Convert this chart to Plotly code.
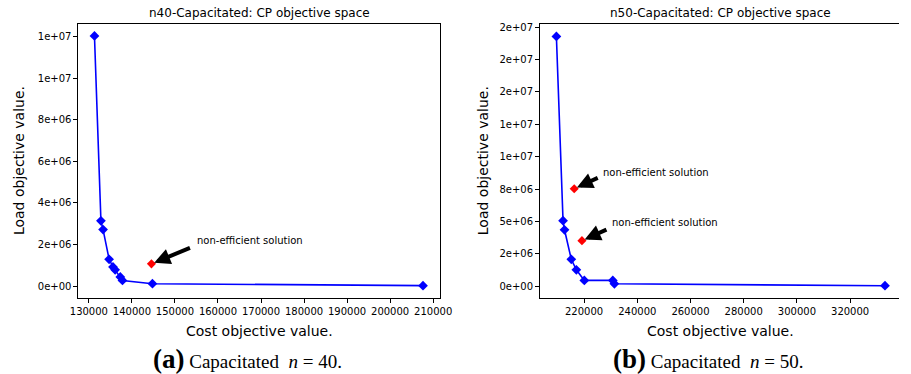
import plotly.graph_objects as go

# ---------------- data ----------------
n40_cost = [131300, 132800, 133300, 134700, 135600, 136100, 137300, 137800, 144770, 207640]
n40_load = [12.04e6, 3.14e6, 2.72e6, 1.29e6, 0.92e6, 0.78e6, 0.44e6, 0.27e6, 0.115e6, 0.02e6]
n40_red_cost = [144540]
n40_red_load = [1.07e6]

n50_cost = [209600, 212100, 212650, 215200, 217100, 220100, 230800, 231400, 333100]
n50_load = [19.28e6, 5.05e6, 4.35e6, 2.07e6, 1.26e6, 0.44e6, 0.44e6, 0.18e6, 0.03e6]
n50_red_cost = [216300, 219200]
n50_red_load = [7.52e6, 3.51e6]

n40_xticks = [130000, 140000, 150000, 160000, 170000, 180000, 190000, 200000, 210000]
n40_yticks = [0, 2e6, 4e6, 6e6, 8e6, 10e6, 12e6]
n40_ytick_labels = ["0e+00", "2e+06", "4e+06", "6e+06", "8e+06", "1e+07", "1e+07"]

n50_xticks = [220000, 240000, 260000, 280000, 300000, 320000]
n50_yticks = [0, 2.5e6, 5e6, 7.5e6, 10e6, 12.5e6, 15e6, 17.5e6, 20e6]
n50_ytick_labels = ["0e+00", "2e+06", "5e+06", "8e+06", "1e+07", "1e+07", "2e+07", "2e+07", "2e+07"]

titles = ["n40-Capacitated: CP objective space", "n50-Capacitated: CP objective space"]
x_title = "Cost objective value."
y_title = "Load objective value."
captions = ["<b><span style='font-size:27px'>(a)</span></b> Capacitated&nbsp;&nbsp;<i>n</i> = 40.",
            "<b><span style='font-size:27px'>(b)</span></b> Capacitated&nbsp;&nbsp;<i>n</i> = 50."]
note = "non-efficient solution"

# ---------------- figure ----------------
W, H = 911, 374
FONT = "DejaVu Sans"
BLUE = "#0000ff"

fig = go.Figure()

def add_panel(cost, load, rc, rl, xa, ya):
    fig.add_trace(go.Scatter(x=cost, y=load, mode="lines+markers", xaxis=xa, yaxis=ya,
                             line=dict(color=BLUE, width=1.6),
                             marker=dict(symbol="diamond", size=7.5, color=BLUE),
                             showlegend=False))
    fig.add_trace(go.Scatter(x=rc, y=rl, mode="markers", xaxis=xa, yaxis=ya,
                             marker=dict(symbol="diamond", size=7, color="#ff0000"),
                             showlegend=False))

add_panel(n40_cost, n40_load, n40_red_cost, n40_red_load, "x", "y")
add_panel(n50_cost, n50_load, n50_red_cost, n50_red_load, "x2", "y2")

ydom = [1 - 297.5 / H, 1 - 22 / H]
axis_common = dict(showgrid=False, zeroline=False, showline=True, linecolor="black", linewidth=1,
                   ticks="outside", ticklen=4, tickwidth=1, tickcolor="black",
                   tickfont=dict(family=FONT, size=10, color="black"))

fig.update_layout(
    width=W, height=H, margin=dict(l=0, r=0, t=0, b=0),
    paper_bgcolor="white", plot_bgcolor="white",
    xaxis=dict(domain=[72 / W, 441.7 / W], range=[127570, 211590], anchor="y",
               tickvals=n40_xticks, ticktext=[str(v) for v in n40_xticks], mirror=True, **axis_common),
    yaxis=dict(domain=ydom, range=[-0.57e6, 12.62e6], anchor="x",
               tickvals=n40_yticks, ticktext=n40_ytick_labels, mirror=True, **axis_common),
    xaxis2=dict(domain=[544 / W, 1.0], range=[203460, 338370], anchor="y2",
                tickvals=n50_xticks, ticktext=[str(v) for v in n50_xticks], mirror=True, **axis_common),
    yaxis2=dict(domain=ydom, range=[-0.91e6, 20.25e6], anchor="x2",
                tickvals=n50_yticks, ticktext=n50_ytick_labels, mirror=False, **axis_common),
)

ann = []
# titles and axis titles
for cx, t in [(256.8, titles[0]), (728.7, titles[1])]:
    ann.append(dict(x=cx / W, y=1 - 11.5 / H, xref="paper", yref="paper", text=t, showarrow=False,
                    xanchor="center", yanchor="middle", font=dict(family=FONT, size=12, color="black")))
    ann.append(dict(x=cx / W, y=1 - 331 / H, xref="paper", yref="paper", text=x_title, showarrow=False,
                    xanchor="center", yanchor="middle", font=dict(family=FONT, size=14, color="black")))
for lx in [11.5, 485]:
    ann.append(dict(x=lx / W, y=1 - 159.7 / H, xref="paper", yref="paper", text=y_title, showarrow=False,
                    textangle=-90, xanchor="center", yanchor="middle",
                    font=dict(family=FONT, size=14, color="black")))
# captions
for cx, c in [(244.5, captions[0]), (716, captions[1])]:
    ann.append(dict(x=cx / W, y=1 - 359 / H, xref="paper", yref="paper", text=c, showarrow=False,
                    xanchor="center", yanchor="middle",
                    font=dict(family="Liberation Serif", size=19, color="black")))

# arrows + notes
arrow_specs = [
    ("x", "y", n40_red_cost[0], n40_red_load[0], 40, -16.6, 44, 23.3),
    ("x2", "y2", n50_red_cost[0], n50_red_load[0], 25, -11.6, 27, 16.5),
    ("x2", "y2", n50_red_cost[1], n50_red_load[1], 26, -11.7, 28, 18.3),
]
for xr, yr, px, py, ax, ay, tx, ty in arrow_specs:
    ann.append(dict(x=px, y=py, xref=xr, yref=yr, text="", showarrow=True, ax=ax, ay=ay,
                    arrowhead=2, arrowsize=0.8, arrowwidth=4, arrowcolor="black", standoff=3))
    ann.append(dict(x=px, y=py, xref=xr, yref=yr, text=note, showarrow=False, xshift=tx, yshift=ty,
                    xanchor="left", yanchor="middle", font=dict(family=FONT, size=10, color="black")))

fig.update_layout(annotations=ann)
fig.write_html("out.html")
